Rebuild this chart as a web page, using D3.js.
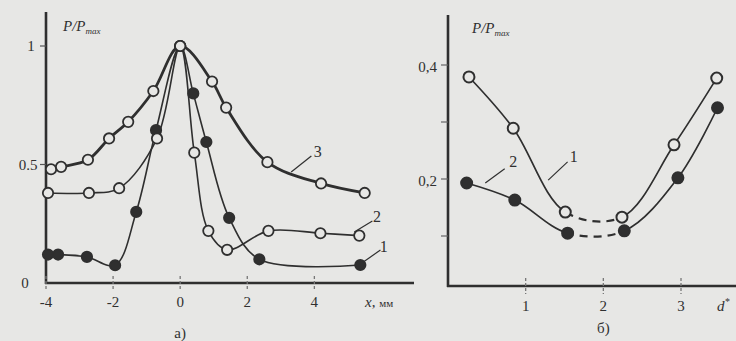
<!DOCTYPE html>
<html>
<head>
<meta charset="utf-8">
<script src="https://cdn.jsdelivr.net/npm/d3@7"></script>
<style>
  html, body { margin: 0; padding: 0; background: #e7e7e5; }
  svg { display: block; }
  text { font-family: "Liberation Serif", "DejaVu Serif", serif; fill: #303030; }
</style>
</head>
<body>
<svg id="svg" width="736" height="341"></svg>
<script>
// ---- panel a) : P/Pmax vs x, mm ----
const xTicksA = [-4, -2, 0, 2, 4];
const yTicksA = [0, 0.5, 1];
const yTickLabelsA = ["0", "0.5", "1"];

const curve3X = [-3.85, -3.55, -2.75, -2.12, -1.55, -0.8, 0, 0.95, 1.37, 2.6, 4.2, 5.5];
const curve3Y = [0.48, 0.49, 0.52, 0.61, 0.68, 0.81, 1.0, 0.85, 0.74, 0.51, 0.42, 0.38];

const curve2X = [-3.94, -2.72, -1.82, -0.69, 0, 0.42, 0.84, 1.4, 2.63, 4.18, 5.34];
const curve2Y = [0.38, 0.38, 0.40, 0.61, 1.0, 0.55, 0.22, 0.14, 0.22, 0.21, 0.20];

const curve1X = [-3.94, -3.64, -2.78, -1.94, -1.31, -0.72, 0, 0.39, 0.78, 1.46, 2.36, 5.37];
const curve1Y = [0.12, 0.12, 0.11, 0.075, 0.30, 0.645, 1.0, 0.80, 0.595, 0.275, 0.10, 0.076];

// labels "3","2","1" with leader lines (data units)
const labelsA = [
  {t: "3", x0: 3.31, y0: 0.468, x1: 3.91, y1: 0.536, lx: 4.1, ly: 0.555},
  {t: "2", x0: 5.19, y0: 0.215, x1: 5.73, y1: 0.262, lx: 5.87, ly: 0.28},
  {t: "1", x0: 5.46, y0: 0.089, x1: 5.97, y1: 0.139, lx: 6.07, ly: 0.155}
];

// ---- panel б) : P/Pmax vs d* ----
const xTicksB = [1, 2, 3];
const yTicksB = [0.1, 0.2, 0.3, 0.4];
const yTickLabelsB = ["", "0,2", "", "0,4"];

const open1X = [0.27, 0.84, 1.51, 2.24, 2.91, 3.46];
const open1Y = [0.379, 0.289, 0.142, 0.133, 0.26, 0.377];

const fill2X = [0.24, 0.86, 1.54, 2.27, 2.96, 3.47];
const fill2Y = [0.193, 0.163, 0.105, 0.109, 0.202, 0.325];

const labelsB = [
  {t: "1", x0: 1.29, y0: 0.198, x1: 1.54, y1: 0.23, lx: 1.62, ly: 0.24},
  {t: "2", x0: 0.48, y0: 0.193, x1: 0.73, y1: 0.218, lx: 0.84, ly: 0.23}
];

const ink = "#2f2f2f";
const paper = "#e7e7e5";
const svg = d3.select("#svg");

const zip = (xs, ys) => xs.map((x, i) => ({x: x, y: ys[i]}));

function drawAxes(g, x, y, xEnd, yTop, xTicks, yTicks, yLabels) {
  const x0 = x.range()[0], yb = y.range()[0];
  // axis lines
  g.append("line").attr("x1", x0).attr("x2", x0).attr("y1", yTop).attr("y2", yb + 1)
    .attr("stroke", ink).attr("stroke-width", 2.6);
  g.append("line").attr("x1", x0 - 1).attr("x2", xEnd).attr("y1", yb).attr("y2", yb)
    .attr("stroke", ink).attr("stroke-width", 2.6);
  // x ticks
  xTicks.forEach(t => {
    g.append("line").attr("x1", x(t)).attr("x2", x(t)).attr("y1", yb - 7).attr("y2", yb + 8)
      .attr("stroke", "#777").attr("stroke-width", 1.3).attr("stroke-dasharray", "3,2");
    g.append("text").attr("x", x(t)).attr("y", yb + 19).attr("text-anchor", "middle")
      .attr("dominant-baseline", "central").attr("font-size", 15)
      .text(t < 0 ? "-" + Math.abs(t) : t);
  });
}

// ===== panel a =====
{
  const x = d3.scaleLinear().domain([-4, 7]).range([46, 415]);
  const y = d3.scaleLinear().domain([0, 1]).range([283, 46]);
  const g = svg.append("g");
  drawAxes(g, x, y, 414, 12, xTicksA);
  yTicksA.forEach((t, i) => {
    if (t > 0) g.append("line").attr("x1", x(-4) - 6).attr("x2", x(-4)).attr("y1", y(t)).attr("y2", y(t))
      .attr("stroke", "#555").attr("stroke-width", 1.2);
    g.append("text").attr("x", t === 0 ? 25 : (t === 0.5 ? 28 : 31)).attr("y", y(t))
      .attr("text-anchor", "middle").attr("dominant-baseline", "central").attr("font-size", 15)
      .text(yTickLabelsA[i]);
  });
  // y axis title
  const yt = g.append("text").attr("x", 63).attr("y", 31).attr("font-size", 15).attr("font-style", "italic");
  yt.append("tspan").text("P/P");
  yt.append("tspan").attr("font-size", 9).attr("dy", 3).text("max");
  // x axis title
  const xt = g.append("text").attr("x", 365).attr("y", 307).attr("font-size", 15);
  xt.append("tspan").attr("font-style", "italic").text("x");
  xt.append("tspan").text(", ");
  xt.append("tspan").attr("font-size", 11).text("мм");
  g.append("text").attr("x", x(0)).attr("y", 333).attr("text-anchor", "middle")
    .attr("dominant-baseline", "central").attr("font-size", 15).text("а)");

  const line = d3.line().x(d => x(d.x)).y(d => y(d.y)).curve(d3.curveCatmullRom.alpha(0.5));
  const series = [
    {data: zip(curve1X, curve1Y), w: 1.6, filled: true},
    {data: zip(curve2X, curve2Y), w: 1.6, filled: false},
    {data: zip(curve3X, curve3Y), w: 2.8, filled: false}
  ];
  series.forEach(s => {
    g.append("path").attr("d", line(s.data)).attr("fill", "none")
      .attr("stroke", ink).attr("stroke-width", s.w);
  });
  series.forEach(s => {
    g.selectAll(null).data(s.data).enter().append("circle")
      .attr("cx", d => x(d.x)).attr("cy", d => y(d.y)).attr("r", 5.2)
      .attr("fill", s.filled ? ink : paper).attr("stroke", ink).attr("stroke-width", 1.8);
  });
  labelsA.forEach(l => {
    g.append("line").attr("x1", x(l.x0)).attr("y1", y(l.y0)).attr("x2", x(l.x1)).attr("y2", y(l.y1))
      .attr("stroke", ink).attr("stroke-width", 1.2);
    g.append("text").attr("x", x(l.lx)).attr("y", y(l.ly)).attr("text-anchor", "middle")
      .attr("dominant-baseline", "central").attr("font-size", 16).text(l.t);
  });
}

// ===== panel б =====
{
  const x = d3.scaleLinear().domain([0, 3]).range([448, 681]);
  const y = d3.scaleLinear().domain([0.1, 0.4]).range([236, 65]);
  const yb = 286;
  const g = svg.append("g");
  // axes (bottom axis sits below the 0.1 level)
  g.append("line").attr("x1", x(0)).attr("x2", x(0)).attr("y1", 15).attr("y2", yb + 1)
    .attr("stroke", ink).attr("stroke-width", 2.6);
  g.append("line").attr("x1", x(0) - 1).attr("x2", 736).attr("y1", yb).attr("y2", yb)
    .attr("stroke", ink).attr("stroke-width", 2.6);
  xTicksB.forEach(t => {
    g.append("line").attr("x1", x(t)).attr("x2", x(t)).attr("y1", yb - 8).attr("y2", yb + 8)
      .attr("stroke", "#777").attr("stroke-width", 1.3).attr("stroke-dasharray", "3,2");
    g.append("text").attr("x", x(t)).attr("y", yb + 20).attr("text-anchor", "middle")
      .attr("dominant-baseline", "central").attr("font-size", 15).text(t);
  });
  yTicksB.forEach((t, i) => {
    g.append("line").attr("x1", x(0) - 7).attr("x2", x(0)).attr("y1", y(t)).attr("y2", y(t))
      .attr("stroke", "#666").attr("stroke-width", 1.2);
    g.append("text").attr("x", 437).attr("y", y(t) + 2).attr("text-anchor", "end")
      .attr("dominant-baseline", "central").attr("font-size", 15).text(yTickLabelsB[i]);
  });
  const yt = g.append("text").attr("x", 472).attr("y", 33).attr("font-size", 15).attr("font-style", "italic");
  yt.append("tspan").text("P/P");
  yt.append("tspan").attr("font-size", 9).attr("dy", 3).text("max");
  const dt = g.append("text").attr("x", 717).attr("y", yb + 20).attr("dominant-baseline", "central")
    .attr("font-size", 15).attr("font-style", "italic");
  dt.append("tspan").text("d");
  dt.append("tspan").attr("font-size", 10).attr("dy", -5).text("*");
  g.append("text").attr("x", x(2)).attr("y", 328).attr("text-anchor", "middle")
    .attr("dominant-baseline", "central").attr("font-size", 15).text("б)");

  const line = d3.line().x(d => x(d.x)).y(d => y(d.y)).curve(d3.curveCatmullRom.alpha(0.5));
  const series = [
    {data: zip(open1X, open1Y), filled: false, id: "o1"},
    {data: zip(fill2X, fill2Y), filled: true, id: "f2"}
  ];
  const defs = svg.append("defs");
  series.forEach(s => {
    const a = x(s.data[2].x), b = x(s.data[3].x);
    defs.append("clipPath").attr("id", s.id + "s").call(c => {
      c.append("rect").attr("x", 0).attr("y", 0).attr("width", a).attr("height", 341);
      c.append("rect").attr("x", b).attr("y", 0).attr("width", 736 - b).attr("height", 341);
    });
    defs.append("clipPath").attr("id", s.id + "d")
      .append("rect").attr("x", a).attr("y", 0).attr("width", b - a).attr("height", 341);
    g.append("path").attr("d", line(s.data)).attr("fill", "none").attr("stroke", ink)
      .attr("stroke-width", 1.7).attr("clip-path", `url(#${s.id}s)`);
    g.append("path").attr("d", line(s.data)).attr("fill", "none").attr("stroke", ink)
      .attr("stroke-width", 2.2).attr("stroke-dasharray", "8,6").attr("clip-path", `url(#${s.id}d)`);
  });
  series.forEach(s => {
    g.selectAll(null).data(s.data).enter().append("circle")
      .attr("cx", d => x(d.x)).attr("cy", d => y(d.y)).attr("r", 5.5)
      .attr("fill", s.filled ? ink : paper).attr("stroke", ink).attr("stroke-width", 2);
  });
  labelsB.forEach(l => {
    g.append("line").attr("x1", x(l.x0)).attr("y1", y(l.y0)).attr("x2", x(l.x1)).attr("y2", y(l.y1))
      .attr("stroke", ink).attr("stroke-width", 1.2);
    g.append("text").attr("x", x(l.lx)).attr("y", y(l.ly)).attr("text-anchor", "middle")
      .attr("dominant-baseline", "central").attr("font-size", 16).text(l.t);
  });
}
</script>
</body>
</html>
